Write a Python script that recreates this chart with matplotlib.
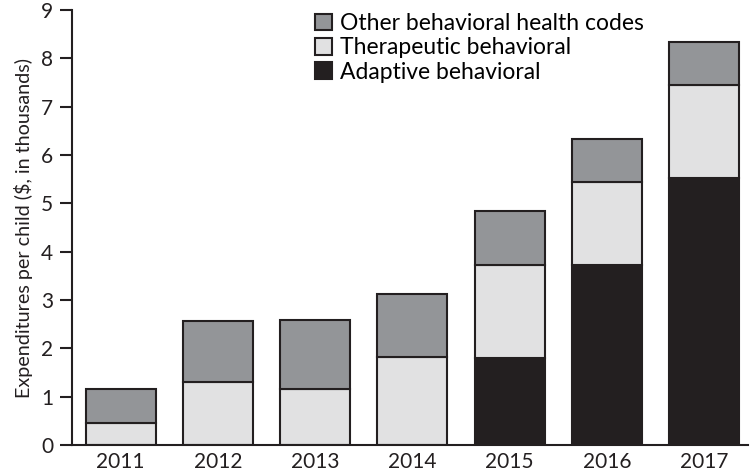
import matplotlib
matplotlib.use("Agg")
import matplotlib.pyplot as plt
import numpy as np

years = ["2011", "2012", "2013", "2014", "2015", "2016", "2017"]
adaptive = [0.0, 0.0, 0.0, 0.0, 1.81, 3.72, 5.53]
therapeutic = [0.45, 1.30, 1.15, 1.83, 1.91, 1.72, 1.92]
other = [0.71, 1.27, 1.43, 1.29, 1.13, 0.89, 0.89]

plt.rcParams["font.family"] = ["Lato", "DejaVu Sans"]

fig = plt.figure(figsize=(7.5, 4.74), dpi=100)
ax = fig.add_axes([0.096, 0.061, 0.901, 0.918])

x = np.arange(len(years))
w = 0.72
edge = "#231f20"
adaptive = np.array(adaptive)
therapeutic = np.array(therapeutic)
other = np.array(other)

b1 = ax.bar(x, adaptive, w, color="#231f20", edgecolor=edge, linewidth=1.5, label="Adaptive behavioral")
b2 = ax.bar(x, therapeutic, w, bottom=adaptive, color="#e1e1e2", edgecolor=edge, linewidth=1.5,
            label="Therapeutic behavioral")
b3 = ax.bar(x, other, w, bottom=adaptive + therapeutic, color="#939598", edgecolor=edge, linewidth=1.5,
            label="Other behavioral health codes")

ax.set_xlim(-0.5, 6.45)
ax.set_ylim(0, 9)
ax.set_yticks(range(0, 10))
ax.set_xticks(x)
ax.set_xticklabels(years)
ax.tick_params(axis="y", direction="out", length=8.5, width=1.5, labelsize=15, colors="#231f20", pad=5)
ax.tick_params(axis="x", length=0, labelsize=15, colors="#231f20", pad=5)
for s in ["top", "right"]:
    ax.spines[s].set_visible(False)
ax.spines["left"].set_linewidth(1.5)
ax.spines["bottom"].set_linewidth(1.5)
ax.spines["left"].set_color("#231f20")
ax.spines["bottom"].set_color("#231f20")
ax.set_ylabel("Expenditures per child ($, in thousands)", fontsize=14.2, color="#231f20", labelpad=6)

ax.legend([b3, b2, b1], [b3.get_label(), b2.get_label(), b1.get_label()],
          loc="upper left", bbox_to_anchor=(0.36, 0.993), frameon=False,
          fontsize=16.5, handlelength=0.75, handleheight=0.75, handletextpad=0.35,
          labelspacing=0.15, borderaxespad=0.0, borderpad=0.0)

fig.savefig("out.png", dpi=100)
